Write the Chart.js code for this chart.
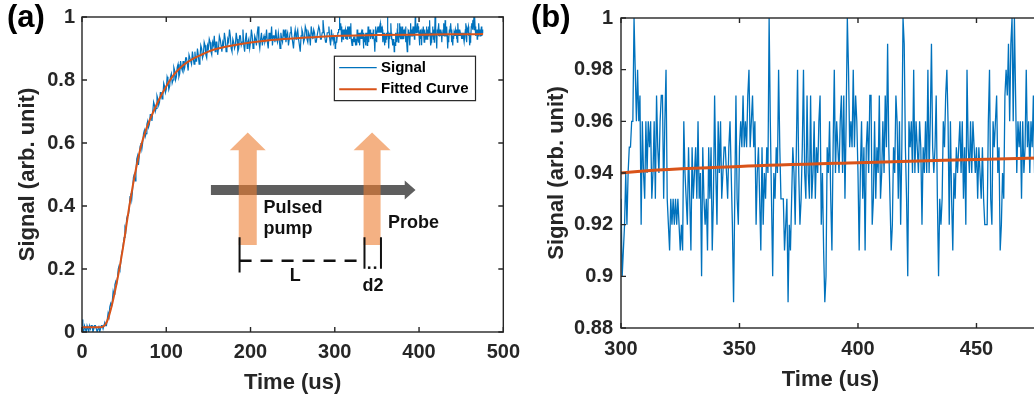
<!DOCTYPE html>
<html lang="en">
<head>
<meta charset="UTF-8">
<title>Signal vs Time</title>
<script src="https://cdn.jsdelivr.net/npm/chart.js"></script>
<style>
    html, body { margin: 0; padding: 0; background: #ffffff; overflow: hidden; }
    body { width: 1034px; height: 402px; position: relative; }
    canvas { position: absolute; top: 0; }
    #chartA { left: 0; }
    #chartB { left: 530px; }
</style>
</head>
<body>
<canvas id="chartA" width="530" height="402"></canvas>
<canvas id="chartB" width="600" height="402"></canvas>
<script>
// signal 0-299 us, one sample every 1 us
const earlyStep = 1;
const earlySignal = [
    0.04, 0.01, 0.00, 0.02, 0.01, 0.00, 0.02, 0.01, 0.00, 0.02, 0.01, 0.02, 0.02, 0.00, 0.01, 0.02, 0.02, 0.01, 0.00, 0.01, 0.02, 0.00, 0.01, 0.02, 0.02, 0.01,
    0.01, 0.03, 0.02, 0.02, 0.04, 0.06, 0.05, 0.08, 0.09, 0.08, 0.10, 0.13, 0.12, 0.15, 0.16, 0.15, 0.17, 0.20, 0.21, 0.20, 0.22, 0.25, 0.26, 0.28,
    0.30, 0.33, 0.32, 0.36, 0.37, 0.37, 0.39, 0.43, 0.44, 0.42, 0.45, 0.49, 0.50, 0.48, 0.51, 0.55, 0.56, 0.53, 0.56, 0.59, 0.60, 0.58, 0.60, 0.63, 0.64, 0.62, 0.63, 0.66, 0.67, 0.65,
    0.66, 0.69, 0.69, 0.67, 0.70, 0.73, 0.72, 0.70, 0.71, 0.75, 0.74, 0.72, 0.73, 0.76, 0.76, 0.74, 0.75, 0.79, 0.78, 0.76,
    0.77, 0.81, 0.80, 0.77, 0.78, 0.81, 0.82, 0.79, 0.80, 0.84, 0.83, 0.80, 0.81, 0.84, 0.85, 0.81, 0.82, 0.86, 0.84, 0.83,
    0.86, 0.83, 0.84, 0.87, 0.87, 0.85, 0.83, 0.88, 0.88, 0.86, 0.85, 0.89, 0.87, 0.85, 0.89, 0.86, 0.86, 0.90, 0.88, 0.85,
    0.87, 0.91, 0.90, 0.87, 0.88, 0.92, 0.91, 0.88, 0.87, 0.91, 0.90, 0.93, 0.92, 0.89, 0.88, 0.92, 0.91, 0.94, 0.89, 0.92,
    0.92, 0.88, 0.90, 0.94, 0.93, 0.91, 0.89, 0.92, 0.91, 0.95, 0.93, 0.89, 0.90, 0.93, 0.92, 0.96, 0.94, 0.90, 0.89, 0.93,
    0.92, 0.90, 0.91, 0.95, 0.93, 0.89, 0.90, 0.94, 0.94, 0.91, 0.92, 0.96, 0.91, 0.89, 0.93, 0.95, 0.90, 0.92, 0.93, 0.90,
    0.92, 0.96, 0.94, 0.90, 0.91, 0.94, 0.93, 0.91, 0.95, 0.97, 0.92, 0.90, 0.93, 0.95, 0.91, 0.93, 0.94, 0.92, 0.93, 0.96,
    0.92, 0.90, 0.95, 0.93, 0.93, 0.97, 0.91, 0.94, 0.94, 0.92, 0.96, 0.93, 0.92, 0.95, 0.93, 0.90, 0.95, 0.93, 0.92, 0.96,
    0.94, 0.96, 0.92, 0.94, 0.95, 0.91, 0.93, 0.95, 0.97, 0.94, 0.92, 0.90, 0.94, 0.96, 0.93, 0.95, 0.96, 0.93, 0.91, 0.89,
    0.94, 0.96, 0.95, 0.92, 0.93, 0.97, 0.96, 0.93, 0.92, 0.95, 0.94, 0.91, 0.97, 0.95, 0.93, 0.96, 0.95, 0.92, 0.92, 0.94,
    0.94, 0.97, 0.96, 0.93, 0.93, 0.95, 0.99, 0.96, 0.94, 0.92, 0.92, 0.95, 0.95, 0.97, 0.93, 0.91, 0.96, 0.93, 0.94, 0.92
];

// signal 300-475.5 us, one sample every 0.5 us (this is what panel b shows)
const lateStart = 300;
const lateStep = 0.5;
const lateSignal = [
    0.93, 0.90, 0.91, 0.92, 0.94, 0.92, 0.94, 0.95, 0.95, 0.96,
    0.96, 1.00, 0.98, 0.96, 0.98, 0.96, 0.97, 0.92, 0.96, 0.94,
    0.93, 0.96, 0.94, 0.96, 0.95, 0.96, 0.93, 0.94, 0.96, 0.93,
    0.97, 0.95, 0.94, 0.96, 0.97, 0.97, 0.93, 0.96, 0.98, 0.93,
    0.92, 0.91, 0.93, 0.92, 0.93, 0.92, 0.93, 0.92, 0.93, 0.92,
    0.91, 0.92, 0.91, 0.96, 0.94, 0.93, 0.92, 0.95, 0.93, 0.91,
    0.95, 0.93, 0.94, 0.95, 0.93, 0.96, 0.93, 0.94, 0.90, 0.95,
    0.93, 0.92, 0.93, 0.91, 0.95, 0.93, 0.95, 0.91, 0.93, 0.97,
    0.94, 0.92, 0.96, 0.94, 0.96, 0.93, 0.94, 0.95,
    0.95, 0.94, 0.93, 0.95, 0.96, 0.94, 0.92, 0.89, 0.93, 0.97,
    0.93, 0.92, 0.95, 0.96, 0.95, 0.97, 0.95, 0.96, 0.95, 0.97,
    0.98, 0.95, 0.96, 0.97, 0.95, 0.96, 0.92, 0.94, 0.95, 0.93,
    0.91, 0.95, 0.92, 0.94, 0.93, 0.95, 0.94, 1.00, 0.96, 0.93,
    0.90, 0.94, 0.93, 0.95, 0.94, 0.98, 0.95, 0.93, 0.93, 0.93,
    0.91, 0.92, 0.93, 0.89, 0.92, 0.91, 0.93, 0.95, 0.94, 0.92,
    0.95, 0.98, 0.94, 0.92, 0.93, 0.95, 0.98, 0.94, 0.93, 0.97,
    0.94, 0.93, 0.97, 0.93, 0.94, 0.96, 0.93, 0.95, 0.94, 0.96,
    0.97, 0.92, 0.94, 0.91, 0.89, 0.90, 0.95, 0.94, 0.96, 0.93,
    0.91, 0.95, 0.98, 0.94, 0.96, 0.95, 0.94, 0.96, 0.97, 0.94,
    0.97, 0.93, 0.96, 1.00, 0.98, 0.95, 0.96, 0.95, 0.98, 0.95,
    0.97, 0.96, 0.94, 0.91, 0.94, 0.96, 0.93, 0.95, 0.91, 0.95,
    0.96, 0.94, 0.97, 0.97, 0.92, 0.93, 0.96, 0.93, 0.95, 0.94,
    0.97, 0.93, 0.94, 0.96, 0.94, 0.97, 0.95, 0.99, 0.95, 0.93,
    0.91, 0.92, 0.95, 0.94, 0.97, 0.96, 0.93, 0.96, 0.92, 0.95,
    1.00, 0.99, 0.95, 0.93, 0.90, 0.96, 0.95, 0.96, 0.94, 0.98,
    0.94, 0.96, 0.95, 0.94, 0.96, 0.95, 0.92, 0.95, 0.94, 0.96,
    0.94, 0.98, 0.94, 0.96, 0.99, 0.95, 0.94, 0.95,
    0.97, 0.93, 0.90, 0.93, 0.92, 0.93, 0.96, 0.95, 0.97, 0.98,
    0.96, 0.92, 0.96, 0.93, 0.91, 0.94, 0.93, 0.95, 0.94, 0.95,
    0.96, 0.94, 0.96, 0.93, 0.95, 0.92, 0.98, 0.95, 0.94, 0.96,
    0.94, 0.96, 0.95, 0.94, 0.95, 0.93, 0.95, 0.94, 0.93, 0.95,
    0.93, 0.92, 0.92, 0.92, 0.96, 0.98, 0.93, 0.92, 0.96, 0.95,
    0.96, 0.97, 0.94, 0.95, 0.91, 0.92, 0.94, 0.93, 0.97, 0.98,
    0.97, 0.99, 0.96, 0.99, 1.00, 0.96, 1.00, 0.97, 0.94, 0.96,
    0.95, 0.96, 0.93, 0.96, 0.94, 0.95, 0.98, 0.95, 0.96, 0.94,
    0.96, 0.95, 0.97, 0.94, 0.95, 0.96
];

// fitted curve
const fitTime  = [0, 10, 20, 25, 30, 35, 40, 45, 50, 55, 60, 65, 70, 75, 80, 90, 100, 110, 120, 130, 140, 150, 160, 175, 200, 225, 250, 275, 300, 350, 400, 450, 476];
const fitValue = [0.015, 0.015, 0.015, 0.017, 0.035, 0.08, 0.14, 0.21, 0.29, 0.38, 0.46, 0.53, 0.59, 0.635, 0.67, 0.73, 0.78, 0.82, 0.847, 0.865, 0.878, 0.89, 0.899, 0.908, 0.919, 0.927, 0.932, 0.936, 0.940, 0.9425, 0.944, 0.9452, 0.9458];

const xTicksA = [0, 100, 200, 300, 400, 500];
const yTicksA = [0, 0.2, 0.4, 0.6, 0.8, 1];
const xTicksB = [300, 350, 400, 450];
const yTicksB = [0.88, 0.9, 0.92, 0.94, 0.96, 0.98, 1];

const seriesNames = ['Signal', 'Fitted Curve'];
const insetLabels = { pump: ['Pulsed', 'pump'], probe: 'Probe', gap: 'L', width: 'd2' };

const FONT = "'Liberation Sans', Arial, sans-serif";
const INK = '#262626';
const BLUE = '#0072BD';
const RED = '#D95319';

const signalPoints = earlySignal.map((v, i) => ({ x: i * earlyStep, y: v }))
    .concat(lateSignal.map((v, i) => ({ x: lateStart + i * lateStep, y: v })));
const fitPoints = fitTime.map((t, i) => ({ x: t, y: fitValue[i] }));

// MATLAB style box with inward ticks on all sides
const boxTicks = {
    id: 'boxTicks',
    afterDatasetsDraw(chart) {
        const { ctx, chartArea: a, scales: { x, y } } = chart;
        const len = 5;
        ctx.save();
        ctx.strokeStyle = INK;
        ctx.lineWidth = 1.4;
        ctx.strokeRect(a.left, a.top, a.right - a.left, a.bottom - a.top);
        ctx.beginPath();
        x.ticks.forEach(t => {
            const p = x.getPixelForValue(t.value);
            ctx.moveTo(p, a.bottom); ctx.lineTo(p, a.bottom - len);
            ctx.moveTo(p, a.top); ctx.lineTo(p, a.top + len);
        });
        y.ticks.forEach(t => {
            const p = y.getPixelForValue(t.value);
            ctx.moveTo(a.left, p); ctx.lineTo(a.left + len, p);
            ctx.moveTo(a.right, p); ctx.lineTo(a.right - len, p);
        });
        ctx.stroke();
        ctx.restore();
    }
};

const panelLabel = {
    id: 'panelLabel',
    afterDraw(chart, args, opts) {
        const ctx = chart.ctx;
        ctx.save();
        ctx.font = 'bold 31px ' + FONT;
        ctx.fillStyle = '#000';
        ctx.textBaseline = 'alphabetic';
        ctx.fillText(opts.text, opts.x, 27);
        ctx.restore();
    }
};

// legend box, placed in axes fractions
const boxLegend = {
    id: 'boxLegend',
    afterDraw(chart) {
        const { ctx, chartArea: a } = chart;
        const X = f => a.left + f * (a.right - a.left);
        const Y = f => a.top + f * (a.bottom - a.top);
        ctx.save();
        ctx.fillStyle = '#fff';
        ctx.strokeStyle = INK;
        ctx.lineWidth = 1.2;
        ctx.fillRect(X(0.599), Y(0.1245), X(0.934) - X(0.599), Y(0.2655) - Y(0.1245));
        ctx.strokeRect(X(0.599), Y(0.1245), X(0.934) - X(0.599), Y(0.2655) - Y(0.1245));
        const rows = [[seriesNames[0], BLUE, 1.3, 0.161], [seriesNames[1], RED, 2, 0.229]];
        ctx.font = 'bold 15px ' + FONT;
        ctx.textBaseline = 'middle';
        rows.forEach(([txt, col, w, fy]) => {
            ctx.strokeStyle = col;
            ctx.lineWidth = w;
            ctx.beginPath();
            ctx.moveTo(X(0.6105), Y(fy));
            ctx.lineTo(X(0.6995), Y(fy));
            ctx.stroke();
            ctx.fillStyle = '#000';
            ctx.fillText(txt, X(0.7096), Y(fy));
        });
        ctx.restore();
    }
};

// the pump / probe sketch inside panel a
const insetSketch = {
    id: 'insetSketch',
    afterDraw(chart) {
        const { ctx, chartArea: a } = chart;
        const X = f => a.left + f * (a.right - a.left);
        const Y = f => a.top + f * (a.bottom - a.top);
        ctx.save();

        // grey beam
        const yc = Y(0.5495);
        ctx.fillStyle = '#5e5e5e';
        ctx.beginPath();
        ctx.moveTo(X(0.306), yc - 5);
        ctx.lineTo(X(0.766), yc - 5);
        ctx.lineTo(X(0.766), yc - 9.5);
        ctx.lineTo(X(0.7916), yc);
        ctx.lineTo(X(0.766), yc + 9.5);
        ctx.lineTo(X(0.766), yc + 5);
        ctx.lineTo(X(0.306), yc + 5);
        ctx.closePath();
        ctx.fill();

        // orange up arrows
        const upArrow = (cx, half, headHalf) => {
            const bot = Y(0.724), base = Y(0.423), tip = Y(0.3668);
            ctx.beginPath();
            ctx.moveTo(cx - half, bot);
            ctx.lineTo(cx - half, base);
            ctx.lineTo(cx - headHalf, base);
            ctx.lineTo(cx, tip);
            ctx.lineTo(cx + headHalf, base);
            ctx.lineTo(cx + half, base);
            ctx.lineTo(cx + half, bot);
            ctx.closePath();
            ctx.fill();
        };
        ctx.fillStyle = 'rgba(237,125,49,0.6)';
        upArrow(X(0.3934), 9, 18);
        upArrow(X(0.6885), 8.5, 18.5);

        // labels
        ctx.fillStyle = '#111';
        ctx.font = 'bold 18px ' + FONT;
        ctx.textBaseline = 'middle';
        ctx.textAlign = 'left';
        ctx.fillText(insetLabels.pump[0], X(0.4309), Y(0.607));
        ctx.fillText(insetLabels.pump[1], X(0.4309), Y(0.674));
        ctx.fillText(insetLabels.probe, X(0.726), Y(0.654));
        ctx.textAlign = 'center';
        ctx.fillText(insetLabels.gap, X(0.506), Y(0.821));
        ctx.fillText(insetLabels.width, X(0.6909), Y(0.853));

        // distance markers
        ctx.strokeStyle = '#111';
        ctx.lineWidth = 2;
        ctx.beginPath();
        ctx.moveTo(X(0.374), Y(0.699)); ctx.lineTo(X(0.374), Y(0.811));
        ctx.moveTo(X(0.6705), Y(0.699)); ctx.lineTo(X(0.6705), Y(0.799));
        ctx.moveTo(X(0.7096), Y(0.699)); ctx.lineTo(X(0.7096), Y(0.799));
        ctx.stroke();
        ctx.lineWidth = 2.5;
        ctx.setLineDash([12, 9]);
        ctx.beginPath();
        ctx.moveTo(X(0.374), Y(0.774)); ctx.lineTo(X(0.6705), Y(0.774));
        ctx.stroke();
        ctx.setLineDash([]);
        ctx.fillRect(X(0.681) - 1, Y(0.795) - 1, 2.5, 2.5);
        ctx.fillRect(X(0.695) - 1, Y(0.795) - 1, 2.5, 2.5);
        ctx.restore();
    }
};

function fixedTicks(list) {
    return scale => { scale.ticks = list.map(v => ({ value: v })); };
}

function makeOptions(cfg) {
    const tickFont = { family: FONT, size: 20, weight: 'bold', lineHeight: 1 };
    const titleFont = { family: FONT, size: 22, weight: 'bold' };
    return {
        responsive: false,
        animation: false,
        devicePixelRatio: 1,
        layout: { padding: cfg.pad },
        elements: { point: { radius: 0 } },
        plugins: { legend: { display: false }, tooltip: { enabled: false }, panelLabel: cfg.label },
        scales: {
            x: {
                type: 'linear', min: cfg.xMin, max: cfg.xMax,
                afterBuildTicks: fixedTicks(cfg.xTicks),
                afterFit: s => { s.height = cfg.xHeight; },
                grid: { display: false, drawTicks: false },
                border: { display: false },
                ticks: { font: tickFont, color: INK, padding: cfg.xPad, maxRotation: 0, autoSkip: false,
                         callback: v => String(v) },
                title: { display: true, text: 'Time (us)', font: titleFont, color: INK, padding: { top: 0, bottom: cfg.xTitlePad } }
            },
            y: {
                type: 'linear', min: cfg.yMin, max: cfg.yMax,
                afterBuildTicks: fixedTicks(cfg.yTicks),
                afterFit: s => { s.width = cfg.yWidth; },
                grid: { display: false, drawTicks: false },
                border: { display: false },
                ticks: { font: tickFont, color: INK, padding: cfg.yPad, autoSkip: false,
                         callback: v => String(+v.toFixed(2)) },
                title: { display: true, text: 'Signal (arb. unit)', font: titleFont, color: INK, padding: { top: cfg.yTitlePad, bottom: 0 } }
            }
        }
    };
}

function makeData(sigWidth, fitWidth) {
    return {
        datasets: [
            { label: seriesNames[1], data: fitPoints, borderColor: RED, borderWidth: fitWidth,
              cubicInterpolationMode: 'monotone', order: 0 },
            { label: seriesNames[0], data: signalPoints, borderColor: BLUE, borderWidth: sigWidth,
              tension: 0, order: 1 }
        ]
    };
}

new Chart(document.getElementById('chartA'), {
    type: 'line',
    data: makeData(1.2, 2),
    options: makeOptions({
        pad: { top: 13, right: 21, left: 0, bottom: 0 },
        xMin: 0, xMax: 500, yMin: 0, yMax: 1,
        xTicks: xTicksA, yTicks: yTicksA,
        xHeight: 70, yWidth: 82, xPad: 10, yPad: 7,
        xTitlePad: 5.5, yTitlePad: 15,
        label: { text: '(a)', x: 7 }
    }),
    plugins: [boxTicks, boxLegend, insetSketch, panelLabel]
});

// panel b: axes run a little past the window edge, so the right side is cut off
new Chart(document.getElementById('chartB'), {
    type: 'line',
    data: makeData(1.3, 3),
    options: makeOptions({
        pad: { top: 10, right: 90, left: 0, bottom: 0 },
        xMin: 300, xMax: 476.8, yMin: 0.88, yMax: 1,
        xTicks: xTicksB, yTicks: yTicksB,
        xHeight: 74, yWidth: 91, xPad: 11, yPad: 8,
        xTitlePad: 9, yTitlePad: 13.5,
        label: { text: '(b)', x: 1 }
    }),
    plugins: [boxTicks, panelLabel]
});
</script>
</body>
</html>
